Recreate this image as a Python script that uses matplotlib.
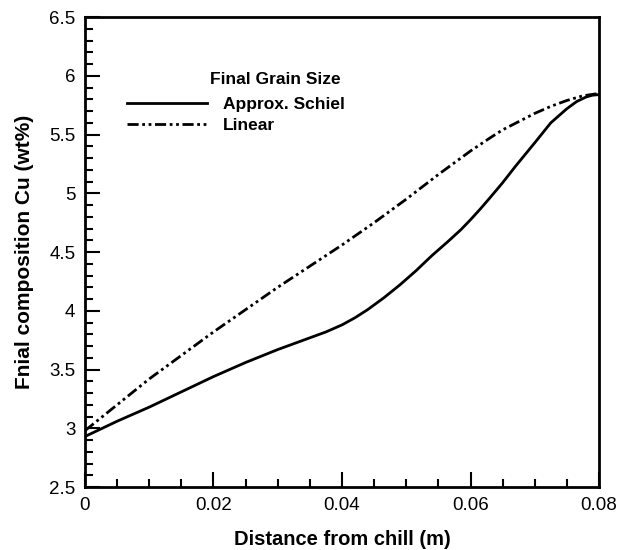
import matplotlib
matplotlib.use('Agg')
import matplotlib.pyplot as plt
from matplotlib.ticker import MultipleLocator

plt.rcParams['font.family'] = ['Liberation Sans', 'DejaVu Sans']

# Approx. Schiel curve
schiel_x = [0, 0.0025, 0.005, 0.0075, 0.01, 0.0125, 0.015, 0.0175, 0.02, 0.025,
            0.03, 0.035, 0.0375, 0.04, 0.042, 0.044, 0.0465, 0.049, 0.0515, 0.054,
            0.0565, 0.0585, 0.06, 0.0615, 0.063, 0.065, 0.067, 0.07, 0.0725, 0.075,
            0.0765, 0.078, 0.079, 0.08]
schiel_y = [2.93, 2.995, 3.06, 3.12, 3.18, 3.245, 3.31, 3.375, 3.44, 3.56,
            3.67, 3.77, 3.82, 3.88, 3.94, 4.01, 4.11, 4.22, 4.34, 4.47,
            4.59, 4.69, 4.775, 4.865, 4.96, 5.09, 5.23, 5.43, 5.60, 5.72,
            5.78, 5.82, 5.835, 5.84]

# Linear curve
linear_x = [0, 0.0025, 0.005, 0.0075, 0.01, 0.0125, 0.015, 0.0175, 0.02, 0.025,
            0.03, 0.035, 0.04, 0.045, 0.05, 0.055, 0.06, 0.063, 0.065, 0.07,
            0.0725, 0.075, 0.0775, 0.08]
linear_y = [2.98, 3.09, 3.20, 3.31, 3.42, 3.52, 3.62, 3.72, 3.82, 4.01,
            4.20, 4.38, 4.56, 4.75, 4.95, 5.16, 5.36, 5.47, 5.54, 5.68,
            5.74, 5.79, 5.83, 5.85]

fig = plt.figure(figsize=(6.31, 5.5), dpi=100)
ax = fig.add_axes([0.1347, 0.1145, 0.8146, 0.8545])

ax.plot(schiel_x, schiel_y, color='black', linewidth=2, label='Approx. Schiel')
ax.plot(linear_x, linear_y, color='black', linewidth=2,
        linestyle=(0, (4, 1.3, 1, 1.3, 1, 1.3)), label='Linear')

ax.set_xlim(0, 0.08)
ax.set_ylim(2.5, 6.5)
ax.xaxis.set_minor_locator(MultipleLocator(0.005))
ax.yaxis.set_minor_locator(MultipleLocator(0.1))
ax.set_xticks([0, 0.02, 0.04, 0.06, 0.08])
ax.set_xticklabels(['0', '0.02', '0.04', '0.06', '0.08'])
ax.set_yticks([2.5, 3, 3.5, 4, 4.5, 5, 5.5, 6, 6.5])
ax.set_yticklabels(['2.5', '3', '3.5', '4', '4.5', '5', '5.5', '6', '6.5'])

ax.tick_params(which='both', direction='in', top=False, right=False, labelsize=13.5, width=1.5)
ax.tick_params(which='major', length=11, pad=7)
ax.tick_params(which='minor', length=6)
for s in ax.spines.values():
    s.set_linewidth(2)

ax.set_xlabel('Distance from chill (m)', fontsize=14.5, fontweight='bold', labelpad=12)
ax.set_ylabel('Fnial composition Cu (wt%)', fontsize=15, fontweight='bold', labelpad=11)

ax.text(0.243, 0.868, 'Final Grain Size', transform=ax.transAxes, fontsize=12.5,
        fontweight='bold', va='center', ha='left')
ax.legend(loc='upper left', bbox_to_anchor=(0.0817, 0.83), frameon=False,
          borderaxespad=0, borderpad=0, handlelength=4.6, handletextpad=0.95,
          labelspacing=0.32, prop={'size': 12.5, 'weight': 'bold'})

fig.savefig('out.png', dpi=100)
